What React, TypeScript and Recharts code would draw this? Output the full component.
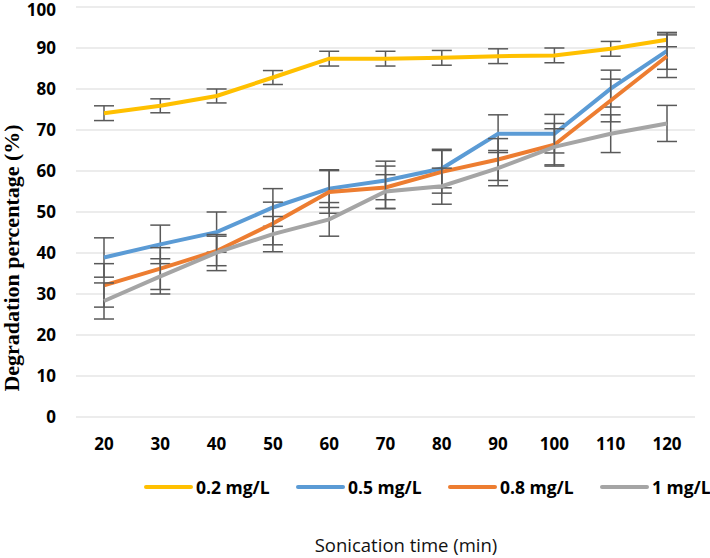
import { LineChart, Line, XAxis, YAxis, CartesianGrid, ErrorBar, Legend, Label } from "recharts";

const times = [20, 30, 40, 50, 60, 70, 80, 90, 100, 110, 120];

const conc02 = [74.1, 75.9, 78.3, 82.8, 87.4, 87.4, 87.6, 88.0, 88.2, 89.8, 92.0];
const err02 = [1.8, 1.7, 1.7, 1.7, 1.8, 1.8, 1.8, 1.8, 1.8, 1.8, 1.7];

const conc05 = [38.9, 42.1, 45.1, 51.1, 55.7, 57.7, 60.6, 69.1, 69.1, 80.1, 89.3];
const err05 = [4.8, 4.7, 4.9, 4.6, 4.6, 4.7, 4.7, 4.6, 4.7, 4.5, 4.5];

const conc08 = [32.1, 36.2, 40.5, 47.2, 54.9, 56.0, 59.8, 62.8, 66.4, 77.2, 88.0];
const err08 = [5.3, 5.1, 3.6, 5.2, 5.2, 5.2, 5.2, 5.1, 5.2, 5.2, 5.2];

const conc1 = [28.3, 34.3, 40.1, 44.6, 48.2, 55.0, 56.3, 60.7, 65.9, 69.1, 71.6];
const err1 = [4.4, 4.3, 4.4, 4.3, 4.1, 4.1, 4.4, 4.3, 4.4, 4.6, 4.4];

const yTicks = [0, 10, 20, 30, 40, 50, 60, 70, 80, 90, 100];

const series = [
  { key: "c02", err: "e02", name: "0.2 mg/L", color: "#FFC000" },
  { key: "c05", err: "e05", name: "0.5 mg/L", color: "#5B9BD5" },
  { key: "c08", err: "e08", name: "0.8 mg/L", color: "#ED7D31" },
  { key: "c1", err: "e1", name: "1 mg/L", color: "#A5A5A5" },
];

const data = times.map((t, i) => ({
  time: t,
  c02: conc02[i],
  e02: err02[i],
  c05: conc05[i],
  e05: err05[i],
  c08: conc08[i],
  e08: err08[i],
  c1: conc1[i],
  e1: err1[i],
}));

const tickFont = { fontFamily: "Open Sans", fontWeight: 700, fontSize: 17, fill: "#000" };

function LegendBox() {
  return (
    <div
      style={{
        display: "flex",
        flexWrap: "nowrap",
        alignItems: "center",
        paddingLeft: 144,
        width: 710,
        boxSizing: "border-box",
        whiteSpace: "nowrap",
        fontFamily: "Open Sans",
        fontWeight: 700,
        fontSize: 17.5,
        color: "#000",
      }}
    >
      {series.map((s) => (
        <div key={s.key} style={{ display: "flex", alignItems: "center", flexShrink: 0, width: 152 }}>
          <div style={{ width: 49, height: 4, borderRadius: 2, background: s.color, marginRight: 3 }} />
          <span>{s.name}</span>
        </div>
      ))}
    </div>
  );
}

export default function App() {
  return (
    <div style={{ position: "absolute", left: 0, top: 0 }}>
      <LineChart width={710} height={558} data={data} margin={{ top: 7, right: 15, left: 0, bottom: 111 }}>
        <CartesianGrid vertical={false} stroke="#d9d9d9" strokeWidth={1.2} />
        <XAxis
          dataKey="time"
          padding={{ left: 28, right: 28 }}
          axisLine={false}
          tickLine={false}
          tickSize={0}
          tickMargin={21}
          height={30}
          tick={tickFont}
        >
          <Label
            content={() => (
              <text x={406} y={552} textAnchor="middle" fontFamily="Open Sans" fontSize={18.5} fill="#111">
                Sonication time (min)
              </text>
            )}
          />
        </XAxis>
        <YAxis
          domain={[0, 100]}
          ticks={yTicks}
          axisLine={false}
          tickLine={false}
          tickSize={0}
          tickMargin={20}
          width={76}
          tick={tickFont}
        >
          <Label
            content={() => (
              <text
                x={19}
                y={258}
                transform="rotate(-90 19 258)"
                textAnchor="middle"
                fontFamily="Liberation Serif"
                fontWeight="bold"
                fontSize={22}
                fill="#000"
              >
                Degradation percentage (%)
              </text>
            )}
          />
        </YAxis>
        <Legend
          layout="horizontal"
          verticalAlign="middle"
          align="center"
          wrapperStyle={{ top: 475, left: 0, width: 710 }}
          content={() => <LegendBox />}
        />
        {series.map((s) => (
          <Line
            key={s.key}
            type="linear"
            dataKey={s.key}
            name={s.name}
            stroke={s.color}
            strokeWidth={4}
            dot={false}
            activeDot={false}
            isAnimationActive={false}
          >
            <ErrorBar dataKey={s.err} direction="y" width={10} stroke="#595959" strokeWidth={1.5} isAnimationActive={false} />
          </Line>
        ))}
      </LineChart>
    </div>
  );
}
